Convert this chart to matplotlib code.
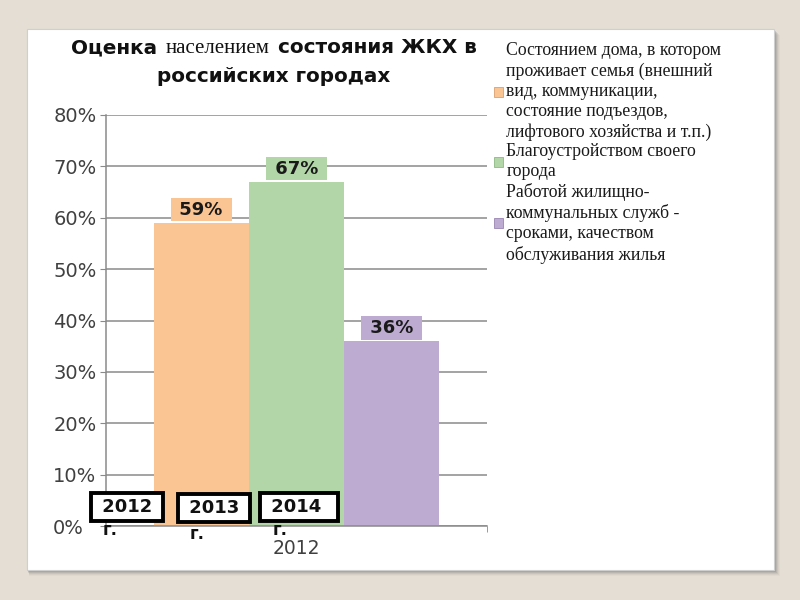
import matplotlib.pyplot as plt
from matplotlib.patches import Rectangle, Patch
from matplotlib.offsetbox import TextArea, HPacker, VPacker, AnnotationBbox
from matplotlib.ticker import FuncFormatter

# data
series_labels = [
    "Состоянием дома, в котором\nпроживает семья (внешний\nвид, коммуникации,\n"
    "состояние подъездов,\nлифтового хозяйства и т.п.)",
    "Благоустройством своего\nгорода",
    "Работой жилищно-\nкоммунальных служб -\nсроками, качеством\nобслуживания жилья",
]
values = [0.59, 0.67, 0.36]
category = "2012"
year_boxes = ["2012", "2013", "2014"]
colors = ["#FAC593", "#B3D6A8", "#BDABD2"]
edge_colors = ["#D9A070", "#8DB883", "#9A86B3"]

W, H = 800, 600
BG = "#E4DED4"
GRID = "#8A8A8A"
TXT = "#404040"


def fx(px):
    return px / W


def fy(py):
    return 1 - py / H


fig = plt.figure(figsize=(8, 6), dpi=100, facecolor=BG)

# slide panel with a soft shadow
for k, a in zip(range(6, 0, -1), [0.05, 0.08, 0.12, 0.16, 0.22, 0.3]):
    fig.patches.append(Rectangle((fx(27 + k * 0.4), fy(570 + k)), fx(747 + k * 0.6), (541) / H,
                                 transform=fig.transFigure, fc="#707070", ec="none",
                                 alpha=a, zorder=-3))
fig.patches.append(Rectangle((fx(27), fy(570)), fx(747), 541 / H, transform=fig.transFigure,
                             fc="white", ec="#CFCFCF", lw=0.8, zorder=-2))

ax = fig.add_axes([fx(106), fy(526), 381 / W, 411 / H])
ax.patch.set_visible(False)

for i, (v, c, lab) in enumerate(zip(values, colors, series_labels)):
    ax.bar(i, v, width=1, color=c, label=lab, zorder=2)
    ax.annotate(f" {v:.0%} ", xy=(i, v), xytext=(0, 9.5), textcoords="offset points",
                ha="center", va="center", fontsize=13, fontweight="bold", color="#1a1a1a",
                bbox=dict(boxstyle="square,pad=0.15", fc=c, ec="none"), zorder=3)

ax.set_xlim(-1.0, 3.0)
ax.set_ylim(0, 0.8)
ax.set_yticks([i / 10 for i in range(9)])
ax.yaxis.set_major_formatter(FuncFormatter(lambda y, _: f"{y:.0%}"))
ax.tick_params(axis="y", length=4, color=GRID, pad=34, labelsize=14, labelcolor=TXT)
for t in ax.get_yticklabels():
    t.set_horizontalalignment("left")
ax.set_xticks([1])
ax.set_xticklabels([category])
ax.set_xticks([-1.0, 3.0], minor=True)
ax.tick_params(axis="x", which="major", length=0, pad=9, labelsize=13.5, labelcolor=TXT)
ax.tick_params(axis="x", which="minor", length=4, color=GRID)

ax.yaxis.grid(True, color=GRID, lw=1.1)
ax.set_axisbelow(True)
for s in ["top", "right"]:
    ax.spines[s].set_visible(False)
for s in ["left", "bottom"]:
    ax.spines[s].set_color(GRID)
    ax.spines[s].set_linewidth(1.1)

# title with mixed fonts
sans_b = dict(fontsize=14.4, fontweight="bold", color="#111111", family="DejaVu Sans")
serif = dict(fontsize=15, color="#111111", family="Liberation Serif")
line1 = HPacker(children=[TextArea("Оценка", textprops=sans_b),
                          TextArea("населением", textprops=serif),
                          TextArea("состояния ЖКХ в", textprops=sans_b)],
                align="baseline", pad=0, sep=6)
line2 = TextArea("российских городах", textprops=sans_b)
title = VPacker(children=[line1, line2], align="center", pad=0, sep=6)
fig.add_artist(AnnotationBbox(title, (fx(274), fy(62)), xycoords="figure fraction",
                              frameon=False, box_alignment=(0.5, 0.5)))

# legend
handles = [Patch(fc=c, ec=e, lw=0.6) for c, e in zip(colors, edge_colors)]
leg = fig.legend(handles, series_labels, loc="upper left", bbox_to_anchor=(fx(494), fy(42)),
                 frameon=False, prop={"family": "Liberation Serif", "size": 12.8},
                 labelcolor="#1a1a1a", handlelength=0.5, handleheight=0.5,
                 handletextpad=0.2, labelspacing=0.12, borderpad=0, borderaxespad=0)
for t in leg.get_texts():
    t.set_linespacing(1.25)

# boxed year labels sitting over the axis
box_pos = [(127, 507, 103, 521), (214, 508, 190, 525), (299, 507, 273, 521)]
for yr, (cx, cy, gx, gy) in zip(year_boxes, box_pos):
    fig.text(fx(gx), fy(gy), "г.", ha="left", va="top", fontsize=12, fontweight="bold",
             color="#111111", zorder=4)
    txt = f" {yr}  " if yr == "2014" else f" {yr} "
    fig.text(fx(cx), fy(cy), txt, ha="center", va="center", fontsize=13, fontweight="bold",
             color="#111111", zorder=5,
             bbox=dict(boxstyle="square,pad=0.28", fc="white", ec="black", lw=2.8))

fig.savefig("out.png", dpi=100, facecolor=BG)
